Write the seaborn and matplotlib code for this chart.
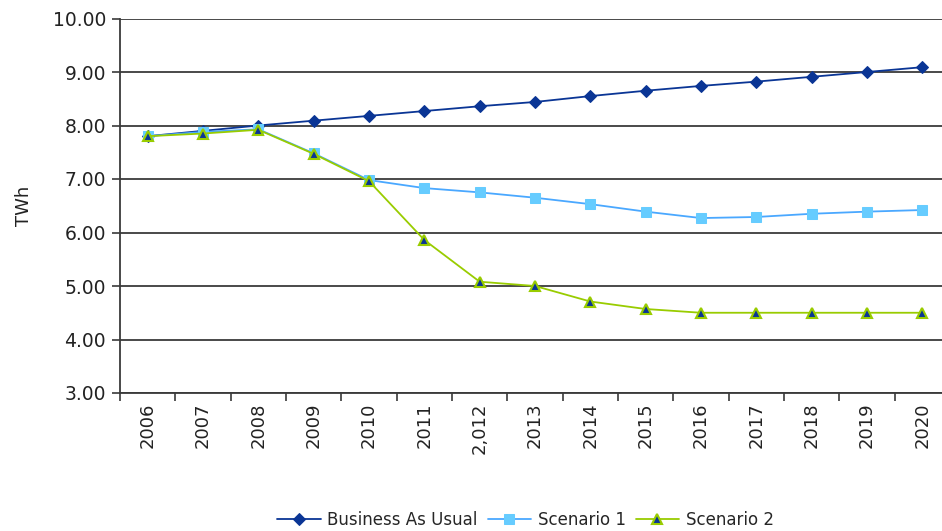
import matplotlib
matplotlib.use("Agg")
import matplotlib.pyplot as plt
import numpy as np
import pandas as pd
import seaborn as sns

years = ["2006", "2007", "2008", "2009", "2010", "2011", "2,012", "2013",
         "2014", "2015", "2016", "2017", "2018", "2019", "2020"]
business_as_usual = [7.80, 7.90, 8.00, 8.09, 8.18, 8.27, 8.36, 8.44,
                     8.55, 8.65, 8.74, 8.82, 8.91, 9.00, 9.09]
scenario_1 = [7.80, 7.88, 7.93, 7.48, 6.98, 6.83, 6.75, 6.65,
              6.53, 6.39, 6.27, 6.29, 6.35, 6.39, 6.42]
scenario_2 = [7.80, 7.85, 7.92, 7.47, 6.96, 5.86, 5.08, 5.00,
              4.71, 4.57, 4.50, 4.50, 4.50, 4.50, 4.50]
series_names = ["Business As Usual", "Scenario 1", "Scenario 2"]

sns.set_theme(style="white")
plt.rcParams["font.family"] = ["DejaVu Sans"]

fig = plt.figure(figsize=(9.42, 5.31), dpi=100)
ax = fig.add_axes([120 / 942, 138 / 531, 830 / 942, 374.5 / 531])

x = np.arange(len(years))
df = pd.DataFrame({"x": x, series_names[0]: business_as_usual,
                   series_names[1]: scenario_1, series_names[2]: scenario_2})

styles = {
    "Business As Usual": dict(color="#0a3595", marker="D", markersize=6,
                              markerfacecolor="#0a3595", markeredgecolor="#0a3595"),
    "Scenario 1": dict(color="#4aa8ff", marker="s", markersize=7,
                       markerfacecolor="#66ccff", markeredgecolor="#66ccff"),
    "Scenario 2": dict(color="#99cc00", marker="^", markersize=7,
                       markerfacecolor="#0a3595", markeredgecolor="#99cc00",
                       markeredgewidth=1.5),
}

for name in series_names:
    sns.lineplot(data=df, x="x", y=name, ax=ax, label=name, linewidth=1.3,
                 **styles[name])

ax.set_ylim(3, 10)
ax.set_yticks(np.arange(3, 10.01, 1))
ax.set_yticklabels([f"{v:.2f}" for v in np.arange(3, 10.01, 1)])
ax.yaxis.grid(True, color="#3a3a3a", linewidth=1.3)
ax.xaxis.grid(False)
ax.set_axisbelow(True)

ax.set_xlim(-0.5, len(years) - 0.5)
ax.set_xticks(x)
ax.set_xticklabels(years, rotation=90)
ax.set_xticks(np.arange(-0.5, len(years) - 0.5, 1), minor=True)
ax.tick_params(axis="x", which="major", length=0, pad=7, labelsize=13,
               colors="#222222")
ax.tick_params(axis="x", which="minor", length=6, width=1.2, color="#3a3a3a",
               direction="out", bottom=True)
ax.tick_params(axis="y", length=6, width=1.2, color="#3a3a3a", direction="out",
               left=True, labelsize=13.5, colors="#222222", pad=4)

for side in ["top", "right"]:
    ax.spines[side].set_visible(False)
for side in ["left", "bottom"]:
    ax.spines[side].set_color("#3a3a3a")
    ax.spines[side].set_linewidth(1.3)

ax.set_xlabel("")
ax.set_ylabel("TWh", fontsize=13, color="#222222", labelpad=14)

ax.legend_.remove()
handles, labels = ax.get_legend_handles_labels()
fig.legend(handles, labels, loc="lower center", bbox_to_anchor=(0.558, -0.025),
           ncol=3, frameon=False, fontsize=12, handlelength=2.6,
           columnspacing=0.6, handletextpad=0.4)

fig.savefig("out.png", dpi=100)
